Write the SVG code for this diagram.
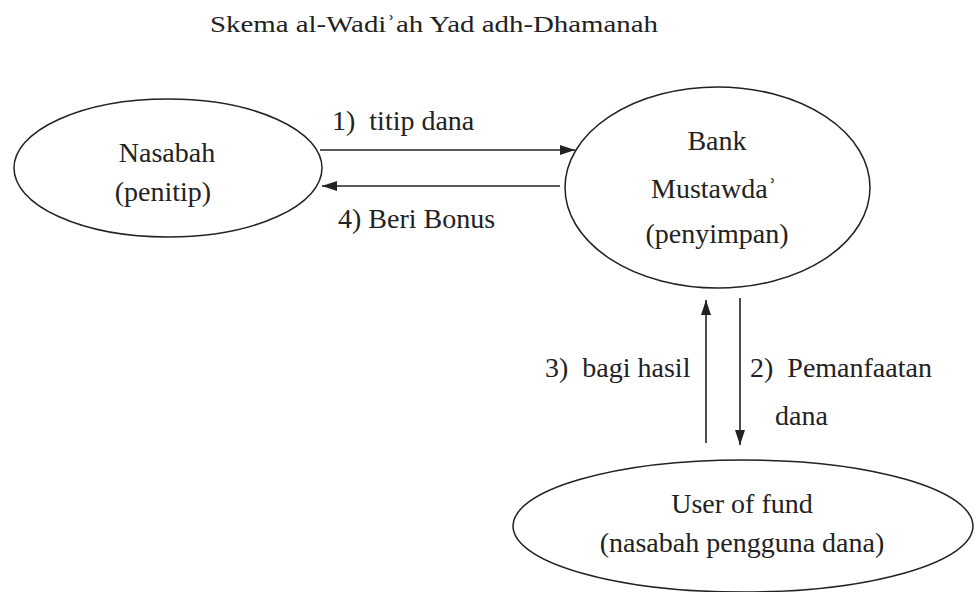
<svg xmlns="http://www.w3.org/2000/svg" width="976" height="592" viewBox="0 0 976 592">
<defs>
<style>
.t{font-family:"Liberation Serif","Times New Roman",serif;font-size:28px;fill:#222;}
.c{text-anchor:middle;}
.e{fill:none;stroke:#222;stroke-width:1.5;}
.ln{stroke:#222;stroke-width:1.6;fill:none;}
</style>
<marker id="ah" viewBox="0 0 15 10" refX="15" refY="5" markerWidth="15" markerHeight="10" markerUnits="userSpaceOnUse" orient="auto">
<path d="M0,0 L15,5 L0,10 z" fill="#222"/>
</marker>
</defs>
<rect width="976" height="592" fill="#fff"/>
<g font-family="Liberation Serif, Times New Roman, serif" fill="#222">
<text class="t" x="210" y="32" font-size="24" style="font-size:24px" textLength="448" lengthAdjust="spacingAndGlyphs">Skema al-Wadiʾah Yad adh-Dhamanah</text>
<g id="nasabah">
<ellipse class="e" cx="168" cy="168" rx="154" ry="69"/>
<text class="t c" x="167" y="162">Nasabah</text>
<text class="t c" x="163" y="201">(penitip)</text>
</g>
<g id="bank">
<ellipse class="e" cx="717.5" cy="187.5" rx="152.5" ry="100.5"/>
<text class="t c" x="717" y="150">Bank</text>
<text class="t c" x="714" y="198">Mustawdaʾ</text>
<text class="t c" x="717" y="243">(penyimpan)</text>
</g>
<g id="user">
<ellipse class="e" cx="743" cy="526" rx="230" ry="66"/>
<text class="t c" x="742" y="513">User of fund</text>
<text class="t c" x="742" y="552">(nasabah pengguna dana)</text>
</g>
<g id="connectors">
<line class="ln" x1="320" y1="150" x2="575" y2="150" marker-end="url(#ah)"/>
<line class="ln" x1="560" y1="186" x2="322" y2="186" marker-end="url(#ah)"/>
<line class="ln" x1="706" y1="443" x2="706" y2="300" marker-end="url(#ah)"/>
<line class="ln" x1="740" y1="298" x2="740" y2="445" marker-end="url(#ah)"/>
<text class="t" x="332" y="130" xml:space="preserve">1)  titip dana</text>
<text class="t" x="338" y="228">4) Beri Bonus</text>
<text class="t" x="545" y="377" xml:space="preserve">3)  bagi hasil</text>
<text class="t" x="750" y="377" xml:space="preserve">2)  Pemanfaatan</text>
<text class="t" x="775" y="425">dana</text>
</g>
</g>
</svg>
